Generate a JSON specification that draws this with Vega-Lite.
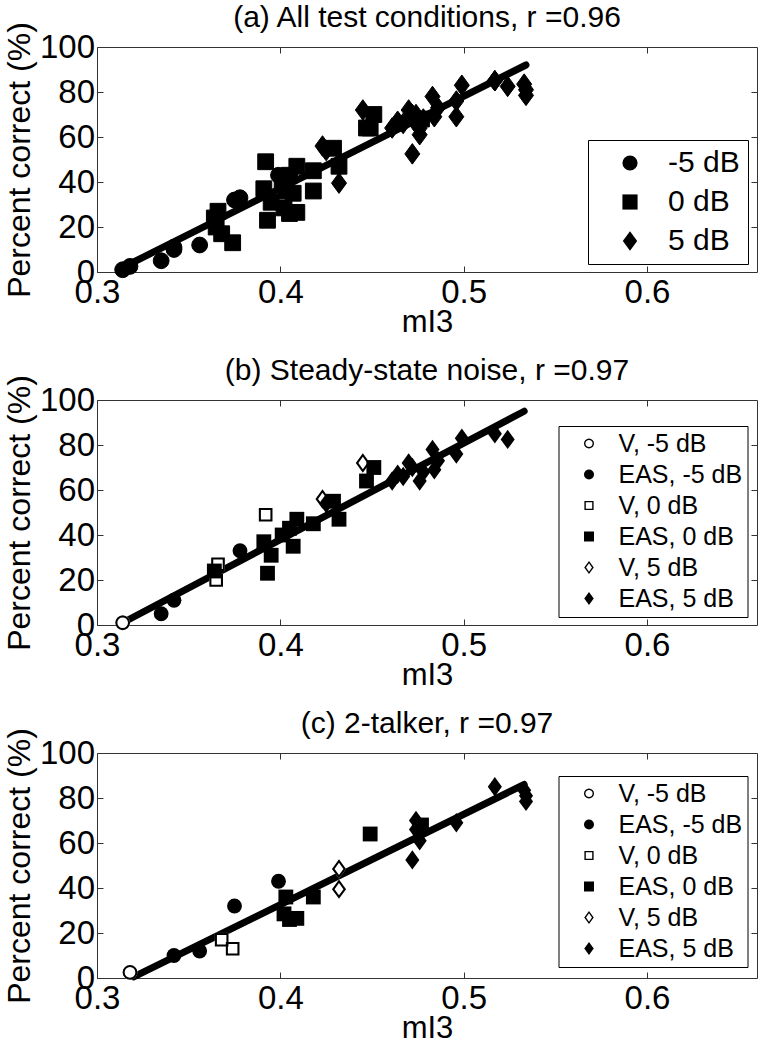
{
  "$schema": "https://vega.github.io/schema/vega-lite/v6.json",
  "padding": {"left": 2, "top": 2, "right": 0, "bottom": 0},
  "config": {
    "font": "Liberation Sans",
    "view": {"stroke": "#333", "strokeWidth": 1},
    "title": {"fontSize": 30, "fontWeight": "normal", "font": "Liberation Sans", "frame": "group", "offset": -11, "color": "black"},
    "axis": {"grid": false, "domain": false, "labelColor": "black", "titleColor": "black", "tickColor": "#333", "labelFlush": false, "labelOverlap": false, "titleFontWeight": "normal", "labelFont": "Liberation Sans", "titleFont": "Liberation Sans"},
    "legend": {"labelFont": "Liberation Sans", "labelColor": "black"}
  },
  "datasets": {
    "pts": [
      {"p": "b", "c": "V", "lab": "V, -5 dB", "snrlab": "-5 dB", "x": 0.314, "y": 1},
      {"p": "b", "c": "EAS", "lab": "EAS, -5 dB", "snrlab": "-5 dB", "x": 0.335, "y": 5},
      {"p": "b", "c": "EAS", "lab": "EAS, -5 dB", "snrlab": "-5 dB", "x": 0.342, "y": 11},
      {"p": "b", "c": "EAS", "lab": "EAS, -5 dB", "snrlab": "-5 dB", "x": 0.378, "y": 33},
      {"p": "b", "c": "V", "lab": "V, 0 dB", "snrlab": "0 dB", "x": 0.366, "y": 27},
      {"p": "b", "c": "V", "lab": "V, 0 dB", "snrlab": "0 dB", "x": 0.365, "y": 20},
      {"p": "b", "c": "V", "lab": "V, 0 dB", "snrlab": "0 dB", "x": 0.392, "y": 49},
      {"p": "b", "c": "EAS", "lab": "EAS, 0 dB", "snrlab": "0 dB", "x": 0.364, "y": 24},
      {"p": "b", "c": "EAS", "lab": "EAS, 0 dB", "snrlab": "0 dB", "x": 0.391, "y": 37},
      {"p": "b", "c": "EAS", "lab": "EAS, 0 dB", "snrlab": "0 dB", "x": 0.395, "y": 31},
      {"p": "b", "c": "EAS", "lab": "EAS, 0 dB", "snrlab": "0 dB", "x": 0.393, "y": 23},
      {"p": "b", "c": "EAS", "lab": "EAS, 0 dB", "snrlab": "0 dB", "x": 0.401, "y": 40},
      {"p": "b", "c": "EAS", "lab": "EAS, 0 dB", "snrlab": "0 dB", "x": 0.405, "y": 43},
      {"p": "b", "c": "EAS", "lab": "EAS, 0 dB", "snrlab": "0 dB", "x": 0.409, "y": 47},
      {"p": "b", "c": "EAS", "lab": "EAS, 0 dB", "snrlab": "0 dB", "x": 0.407, "y": 35},
      {"p": "b", "c": "EAS", "lab": "EAS, 0 dB", "snrlab": "0 dB", "x": 0.418, "y": 45},
      {"p": "b", "c": "EAS", "lab": "EAS, 0 dB", "snrlab": "0 dB", "x": 0.432, "y": 47},
      {"p": "b", "c": "EAS", "lab": "EAS, 0 dB", "snrlab": "0 dB", "x": 0.429, "y": 55},
      {"p": "b", "c": "EAS", "lab": "EAS, 0 dB", "snrlab": "0 dB", "x": 0.447, "y": 64},
      {"p": "b", "c": "EAS", "lab": "EAS, 0 dB", "snrlab": "0 dB", "x": 0.451, "y": 70},
      {"p": "b", "c": "V", "lab": "V, 5 dB", "snrlab": "5 dB", "x": 0.423, "y": 56},
      {"p": "b", "c": "V", "lab": "V, 5 dB", "snrlab": "5 dB", "x": 0.445, "y": 72},
      {"p": "b", "c": "EAS", "lab": "EAS, 5 dB", "snrlab": "5 dB", "x": 0.425, "y": 54},
      {"p": "b", "c": "EAS", "lab": "EAS, 5 dB", "snrlab": "5 dB", "x": 0.461, "y": 64},
      {"p": "b", "c": "EAS", "lab": "EAS, 5 dB", "snrlab": "5 dB", "x": 0.464, "y": 67},
      {"p": "b", "c": "EAS", "lab": "EAS, 5 dB", "snrlab": "5 dB", "x": 0.467, "y": 66},
      {"p": "b", "c": "EAS", "lab": "EAS, 5 dB", "snrlab": "5 dB", "x": 0.470, "y": 72},
      {"p": "b", "c": "EAS", "lab": "EAS, 5 dB", "snrlab": "5 dB", "x": 0.472, "y": 70},
      {"p": "b", "c": "EAS", "lab": "EAS, 5 dB", "snrlab": "5 dB", "x": 0.476, "y": 64},
      {"p": "b", "c": "EAS", "lab": "EAS, 5 dB", "snrlab": "5 dB", "x": 0.478, "y": 68},
      {"p": "b", "c": "EAS", "lab": "EAS, 5 dB", "snrlab": "5 dB", "x": 0.483, "y": 78},
      {"p": "b", "c": "EAS", "lab": "EAS, 5 dB", "snrlab": "5 dB", "x": 0.484, "y": 69},
      {"p": "b", "c": "EAS", "lab": "EAS, 5 dB", "snrlab": "5 dB", "x": 0.486, "y": 73},
      {"p": "b", "c": "EAS", "lab": "EAS, 5 dB", "snrlab": "5 dB", "x": 0.496, "y": 76},
      {"p": "b", "c": "EAS", "lab": "EAS, 5 dB", "snrlab": "5 dB", "x": 0.499, "y": 83},
      {"p": "b", "c": "EAS", "lab": "EAS, 5 dB", "snrlab": "5 dB", "x": 0.517, "y": 85},
      {"p": "b", "c": "EAS", "lab": "EAS, 5 dB", "snrlab": "5 dB", "x": 0.524, "y": 82.5},
      {"p": "c", "c": "V", "lab": "V, -5 dB", "snrlab": "-5 dB", "x": 0.318, "y": 2.5},
      {"p": "c", "c": "EAS", "lab": "EAS, -5 dB", "snrlab": "-5 dB", "x": 0.342, "y": 10},
      {"p": "c", "c": "EAS", "lab": "EAS, -5 dB", "snrlab": "-5 dB", "x": 0.356, "y": 12},
      {"p": "c", "c": "EAS", "lab": "EAS, -5 dB", "snrlab": "-5 dB", "x": 0.375, "y": 32},
      {"p": "c", "c": "EAS", "lab": "EAS, -5 dB", "snrlab": "-5 dB", "x": 0.399, "y": 43},
      {"p": "c", "c": "V", "lab": "V, 0 dB", "snrlab": "0 dB", "x": 0.368, "y": 17},
      {"p": "c", "c": "V", "lab": "V, 0 dB", "snrlab": "0 dB", "x": 0.374, "y": 13},
      {"p": "c", "c": "EAS", "lab": "EAS, 0 dB", "snrlab": "0 dB", "x": 0.403, "y": 36},
      {"p": "c", "c": "EAS", "lab": "EAS, 0 dB", "snrlab": "0 dB", "x": 0.402, "y": 28.5},
      {"p": "c", "c": "EAS", "lab": "EAS, 0 dB", "snrlab": "0 dB", "x": 0.405, "y": 26},
      {"p": "c", "c": "EAS", "lab": "EAS, 0 dB", "snrlab": "0 dB", "x": 0.409, "y": 26.5},
      {"p": "c", "c": "EAS", "lab": "EAS, 0 dB", "snrlab": "0 dB", "x": 0.418, "y": 36},
      {"p": "c", "c": "EAS", "lab": "EAS, 0 dB", "snrlab": "0 dB", "x": 0.449, "y": 64},
      {"p": "c", "c": "EAS", "lab": "EAS, 0 dB", "snrlab": "0 dB", "x": 0.477, "y": 68},
      {"p": "c", "c": "V", "lab": "V, 5 dB", "snrlab": "5 dB", "x": 0.432, "y": 48.5},
      {"p": "c", "c": "V", "lab": "V, 5 dB", "snrlab": "5 dB", "x": 0.432, "y": 39.5},
      {"p": "c", "c": "EAS", "lab": "EAS, 5 dB", "snrlab": "5 dB", "x": 0.472, "y": 52.5},
      {"p": "c", "c": "EAS", "lab": "EAS, 5 dB", "snrlab": "5 dB", "x": 0.474, "y": 70},
      {"p": "c", "c": "EAS", "lab": "EAS, 5 dB", "snrlab": "5 dB", "x": 0.474, "y": 66},
      {"p": "c", "c": "EAS", "lab": "EAS, 5 dB", "snrlab": "5 dB", "x": 0.476, "y": 61},
      {"p": "c", "c": "EAS", "lab": "EAS, 5 dB", "snrlab": "5 dB", "x": 0.496, "y": 69},
      {"p": "c", "c": "EAS", "lab": "EAS, 5 dB", "snrlab": "5 dB", "x": 0.517, "y": 85},
      {"p": "c", "c": "EAS", "lab": "EAS, 5 dB", "snrlab": "5 dB", "x": 0.533, "y": 83.5},
      {"p": "c", "c": "EAS", "lab": "EAS, 5 dB", "snrlab": "5 dB", "x": 0.534, "y": 81},
      {"p": "c", "c": "EAS", "lab": "EAS, 5 dB", "snrlab": "5 dB", "x": 0.534, "y": 78.5}
    ],
    "fit": [
      {"p": "a", "x": 0.314, "y": 2},
      {"p": "a", "x": 0.534, "y": 92},
      {"p": "b", "x": 0.314, "y": 1},
      {"p": "b", "x": 0.533, "y": 95},
      {"p": "c", "x": 0.320, "y": 0.5},
      {"p": "c", "x": 0.533, "y": 86}
    ]
  },
  "spacing": 17,
  "resolve": {"scale": {"shape": "independent"}, "legend": {"shape": "independent"}},
  "vconcat": [
    {
      "title": {"text": "(a) All test conditions, r =0.96"},
      "width": 660, "height": 225,
      "layer": [
        {
          "data": {"name": "fit"},
          "transform": [{"filter": "datum.p == 'a'"}],
          "mark": {"type": "line", "color": "black", "strokeWidth": 7, "strokeCap": "round"},
          "encoding": {
            "x": {"field": "x", "type": "quantitative", "scale": {"domain": [0.3, 0.66], "nice": false, "zero": false}, "axis": {"orient": "top", "values": [0.4, 0.5, 0.6], "labels": false, "title": null, "tickSize": -6}},
            "y": {"field": "y", "type": "quantitative", "scale": {"domain": [0, 100], "nice": false, "zero": true}, "axis": {"orient": "right", "values": [20, 40, 60, 80], "labels": false, "title": null, "tickSize": -6}}
          }
        },
        {
          "data": {"name": "pts"},
          "mark": {"type": "point", "filled": true, "size": 250, "color": "black", "stroke": "black", "strokeWidth": 1, "opacity": 1},
          "encoding": {
            "x": {"field": "x", "type": "quantitative",
                  "axis": {"orient": "bottom", "values": [0.3, 0.4, 0.5, 0.6], "format": ".1f", "title": "mI3", "labelFontSize": 33, "titleFontSize": 31, "tickSize": -6, "labelPadding": 10, "titlePadding": -2}},
            "y": {"field": "y", "type": "quantitative",
                  "axis": {"orient": "left", "values": [0, 20, 40, 60, 80, 100], "title": "Percent correct (%)", "labelFontSize": 33, "titleFontSize": 32, "tickSize": -6, "labelPadding": 8.5, "titlePadding": 3}},
            "shape": {"field": "snrlab", "type": "nominal",
                      "scale": {"domain": ["-5 dB", "0 dB", "5 dB"], "range": ["circle", "square", "M0,-1.3L0.95,0L0,1.3L-0.95,0Z"]},
                      "legend": {"orient": "none", "legendX": 491, "legendY": 93, "title": null, "strokeColor": "black", "fillColor": "white", "padding": 8, "labelFontSize": 30, "symbolSize": 230, "rowPadding": 9, "symbolOffset": 19, "labelOffset": 23, "symbolFillColor": "black", "symbolStrokeColor": "black"}}
          }
        }
      ],
      "resolve": {"axis": {"x": "independent", "y": "independent"}}
    },
    {
      "title": {"text": "(b) Steady-state noise, r =0.97"},
      "width": 660, "height": 225,
      "layer": [
        {
          "data": {"name": "fit"},
          "transform": [{"filter": "datum.p == 'b'"}],
          "mark": {"type": "line", "color": "black", "strokeWidth": 7, "strokeCap": "round"},
          "encoding": {
            "x": {"field": "x", "type": "quantitative", "scale": {"domain": [0.3, 0.66], "nice": false, "zero": false}, "axis": {"orient": "top", "values": [0.4, 0.5, 0.6], "labels": false, "title": null, "tickSize": -6}},
            "y": {"field": "y", "type": "quantitative", "scale": {"domain": [0, 100], "nice": false, "zero": true}, "axis": {"orient": "right", "values": [20, 40, 60, 80], "labels": false, "title": null, "tickSize": -6}}
          }
        },
        {
          "data": {"name": "pts"},
          "transform": [{"filter": "datum.p == 'b' && datum.c == 'V'"}],
          "mark": {"type": "point", "filled": true, "size": 220, "color": "white", "strokeWidth": 0, "opacity": 1},
          "encoding": {
            "x": {"field": "x", "type": "quantitative", "axis": null},
            "y": {"field": "y", "type": "quantitative", "axis": null},
            "shape": {"field": "snrlab", "type": "nominal", "legend": null,
                      "scale": {"domain": ["-5 dB", "0 dB", "5 dB"], "range": ["M1,0L0.924,0.383L0.707,0.707L0.383,0.924L0,1L-0.383,0.924L-0.707,0.707L-0.924,0.383L-1,0L-0.924,-0.383L-0.707,-0.707L-0.383,-0.924L0,-1L0.383,-0.924L0.707,-0.707L0.924,-0.383Z", "M-0.92,-0.92L0.92,-0.92L0.92,0.92L-0.92,0.92Z", "M0,-1.3L0.95,0L0,1.3L-0.95,0Z"]}}
          }
        },
        {
          "data": {"name": "pts"},
          "transform": [{"filter": "datum.p == 'b'"}],
          "mark": {"type": "point", "filled": true, "size": 220, "color": "black", "strokeWidth": 0, "opacity": 1},
          "encoding": {
            "x": {"field": "x", "type": "quantitative",
                  "axis": {"orient": "bottom", "values": [0.3, 0.4, 0.5, 0.6], "format": ".1f", "title": "mI3", "labelFontSize": 33, "titleFontSize": 31, "tickSize": -6, "labelPadding": 10, "titlePadding": -2}},
            "y": {"field": "y", "type": "quantitative",
                  "axis": {"orient": "left", "values": [0, 20, 40, 60, 80, 100], "title": "Percent correct (%)", "labelFontSize": 33, "titleFontSize": 32, "tickSize": -6, "labelPadding": 8.5, "titlePadding": 3}},
            "shape": {"field": "lab", "type": "nominal",
                      "scale": {"domain": ["V, -5 dB", "EAS, -5 dB", "V, 0 dB", "EAS, 0 dB", "V, 5 dB", "EAS, 5 dB"],
                                "range": ["M1,0L0.924,0.383L0.707,0.707L0.383,0.924L0,1L-0.383,0.924L-0.707,0.707L-0.924,0.383L-1,0L-0.924,-0.383L-0.707,-0.707L-0.383,-0.924L0,-1L0.383,-0.924L0.707,-0.707L0.924,-0.383ZM0.72,0L0.665,-0.276L0.509,-0.509L0.276,-0.665L0,-0.72L-0.276,-0.665L-0.509,-0.509L-0.665,-0.276L-0.72,0L-0.665,0.276L-0.509,0.509L-0.276,0.665L0,0.72L0.276,0.665L0.509,0.509L0.665,0.276Z", "circle", "M-0.92,-0.92L0.92,-0.92L0.92,0.92L-0.92,0.92ZM-0.64,-0.64L-0.64,0.64L0.64,0.64L0.64,-0.64Z", "square", "M0,-1.3L0.95,0L0,1.3L-0.95,0ZM0,-0.83L-0.6,0L0,0.83L0.6,0Z", "M0,-1.3L0.95,0L0,1.3L-0.95,0Z"]},
                      "legend": {"orient": "none", "legendX": 461.5, "legendY": 26, "title": null, "strokeColor": "black", "fillColor": "white", "padding": 5, "labelFontSize": 25, "symbolSize": 100, "rowPadding": 5, "symbolOffset": 13, "labelOffset": 17, "symbolFillColor": "black", "symbolStrokeWidth": 0}}
          }
        }
      ],
      "resolve": {"axis": {"x": "independent", "y": "independent"}, "scale": {"shape": "independent"}}
    },
    {
      "title": {"text": "(c) 2-talker, r =0.97"},
      "width": 660, "height": 225,
      "layer": [
        {
          "data": {"name": "fit"},
          "transform": [{"filter": "datum.p == 'c'"}],
          "mark": {"type": "line", "color": "black", "strokeWidth": 7, "strokeCap": "round"},
          "encoding": {
            "x": {"field": "x", "type": "quantitative", "scale": {"domain": [0.3, 0.66], "nice": false, "zero": false}, "axis": {"orient": "top", "values": [0.4, 0.5, 0.6], "labels": false, "title": null, "tickSize": -6}},
            "y": {"field": "y", "type": "quantitative", "scale": {"domain": [0, 100], "nice": false, "zero": true}, "axis": {"orient": "right", "values": [20, 40, 60, 80], "labels": false, "title": null, "tickSize": -6}}
          }
        },
        {
          "data": {"name": "pts"},
          "transform": [{"filter": "datum.p == 'c' && datum.c == 'V'"}],
          "mark": {"type": "point", "filled": true, "size": 220, "color": "white", "strokeWidth": 0, "opacity": 1},
          "encoding": {
            "x": {"field": "x", "type": "quantitative", "axis": null},
            "y": {"field": "y", "type": "quantitative", "axis": null},
            "shape": {"field": "snrlab", "type": "nominal", "legend": null,
                      "scale": {"domain": ["-5 dB", "0 dB", "5 dB"], "range": ["M1,0L0.924,0.383L0.707,0.707L0.383,0.924L0,1L-0.383,0.924L-0.707,0.707L-0.924,0.383L-1,0L-0.924,-0.383L-0.707,-0.707L-0.383,-0.924L0,-1L0.383,-0.924L0.707,-0.707L0.924,-0.383Z", "M-0.92,-0.92L0.92,-0.92L0.92,0.92L-0.92,0.92Z", "M0,-1.3L0.95,0L0,1.3L-0.95,0Z"]}}
          }
        },
        {
          "data": {"name": "pts"},
          "transform": [{"filter": "datum.p == 'c'"}],
          "mark": {"type": "point", "filled": true, "size": 220, "color": "black", "strokeWidth": 0, "opacity": 1},
          "encoding": {
            "x": {"field": "x", "type": "quantitative",
                  "axis": {"orient": "bottom", "values": [0.3, 0.4, 0.5, 0.6], "format": ".1f", "title": "mI3", "labelFontSize": 33, "titleFontSize": 31, "tickSize": -6, "labelPadding": 10, "titlePadding": -2}},
            "y": {"field": "y", "type": "quantitative",
                  "axis": {"orient": "left", "values": [0, 20, 40, 60, 80, 100], "title": "Percent correct (%)", "labelFontSize": 33, "titleFontSize": 32, "tickSize": -6, "labelPadding": 8.5, "titlePadding": 3}},
            "shape": {"field": "lab", "type": "nominal",
                      "scale": {"domain": ["V, -5 dB", "EAS, -5 dB", "V, 0 dB", "EAS, 0 dB", "V, 5 dB", "EAS, 5 dB"],
                                "range": ["M1,0L0.924,0.383L0.707,0.707L0.383,0.924L0,1L-0.383,0.924L-0.707,0.707L-0.924,0.383L-1,0L-0.924,-0.383L-0.707,-0.707L-0.383,-0.924L0,-1L0.383,-0.924L0.707,-0.707L0.924,-0.383ZM0.72,0L0.665,-0.276L0.509,-0.509L0.276,-0.665L0,-0.72L-0.276,-0.665L-0.509,-0.509L-0.665,-0.276L-0.72,0L-0.665,0.276L-0.509,0.509L-0.276,0.665L0,0.72L0.276,0.665L0.509,0.509L0.665,0.276Z", "circle", "M-0.92,-0.92L0.92,-0.92L0.92,0.92L-0.92,0.92ZM-0.64,-0.64L-0.64,0.64L0.64,0.64L0.64,-0.64Z", "square", "M0,-1.3L0.95,0L0,1.3L-0.95,0ZM0,-0.83L-0.6,0L0,0.83L0.6,0Z", "M0,-1.3L0.95,0L0,1.3L-0.95,0Z"]},
                      "legend": {"orient": "none", "legendX": 461.5, "legendY": 23, "title": null, "strokeColor": "black", "fillColor": "white", "padding": 5, "labelFontSize": 25, "symbolSize": 100, "rowPadding": 5, "symbolOffset": 13, "labelOffset": 17, "symbolFillColor": "black", "symbolStrokeWidth": 0}}
          }
        }
      ],
      "resolve": {"axis": {"x": "independent", "y": "independent"}, "scale": {"shape": "independent"}}
    }
  ]
}
